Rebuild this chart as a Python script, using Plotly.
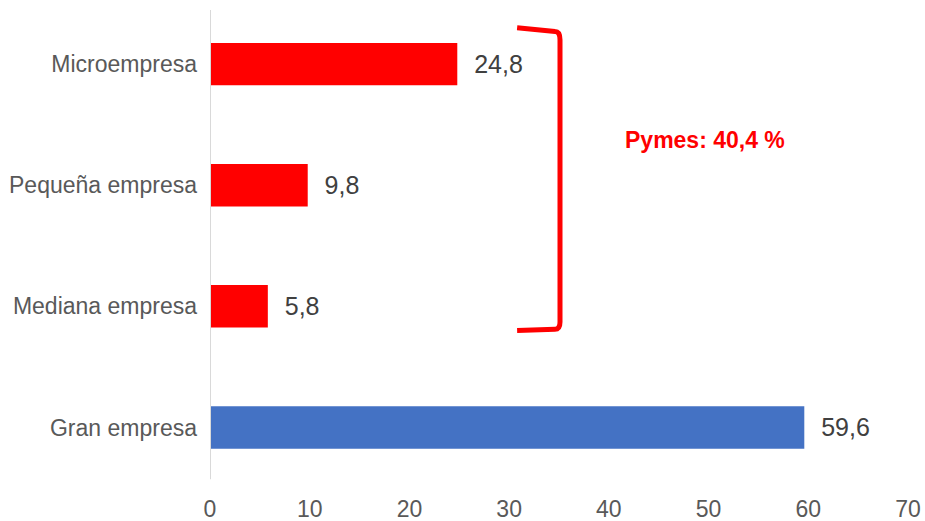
import plotly.graph_objects as go

categories = ["Microempresa", "Pequeña empresa", "Mediana empresa", "Gran empresa"]
values = [24.8, 9.8, 5.8, 59.6]
colors = ["#FF0000", "#FF0000", "#FF0000", "#4472C4"]
x_ticks = [0, 10, 20, 30, 40, 50, 60, 70]
pymes_label = "Pymes: 40,4 %"

ypos = list(range(len(categories)))

fig = go.Figure()
fig.add_trace(go.Bar(
    x=values, y=ypos, orientation="h",
    marker=dict(color=colors, line=dict(width=0)),
    width=0.35,
    text=["  " + f"{v:.1f}".replace(".", ",") for v in values],
    textposition="outside",
    textfont=dict(family="Liberation Sans, Arial, sans-serif", size=25, color="#404040"),
    cliponaxis=False,
    hoverinfo="skip",
))

# bracket
fig.add_shape(type="path", xref="x", yref="y",
              path="M 30.8,-0.30 L 34.6,-0.27 Q 35.1,-0.27 35.1,-0.20 L 35.1,2.13 Q 35.1,2.19 34.6,2.19 L 30.8,2.20",
              line=dict(color="#FF0000", width=5))

# axis line at 0
fig.add_shape(type="line", xref="x", yref="paper", x0=0, x1=0, y0=0.018, y1=0.996,
              line=dict(color="#D9D9D9", width=2))

fig.add_annotation(x=49.6, y=0.63, xref="x", yref="y", text="<b>" + pymes_label + "</b>",
                   showarrow=False,
                   font=dict(family="Liberation Sans Narrow, Arial Narrow, sans-serif", size=23, color="#FF0000"))

fig.update_layout(
    width=925, height=521,
    margin=dict(l=210, r=17, t=8, b=32.5),
    plot_bgcolor="white", paper_bgcolor="white",
    showlegend=False,
    xaxis=dict(range=[0, 70], tickvals=x_ticks, ticktext=[str(t) for t in x_ticks],
               showgrid=False, zeroline=False, showline=False, automargin=False,
               tickfont=dict(family="Liberation Sans Narrow, Arial Narrow, sans-serif", size=23, color="#595959"),
               ticks="", ticklabelstandoff=5),
    yaxis=dict(range=[3.5, -0.463], tickvals=ypos, ticktext=categories,
               showgrid=False, zeroline=False, showline=False, automargin=False,
               tickfont=dict(family="Liberation Sans, Arial, sans-serif", size=23, color="#595959"),
               ticks="", ticklabelstandoff=12),
)

fig.write_html("out.html", config={"displayModeBar": False},
               post_script="document.body.style.margin='0';document.body.style.overflow='hidden';")
